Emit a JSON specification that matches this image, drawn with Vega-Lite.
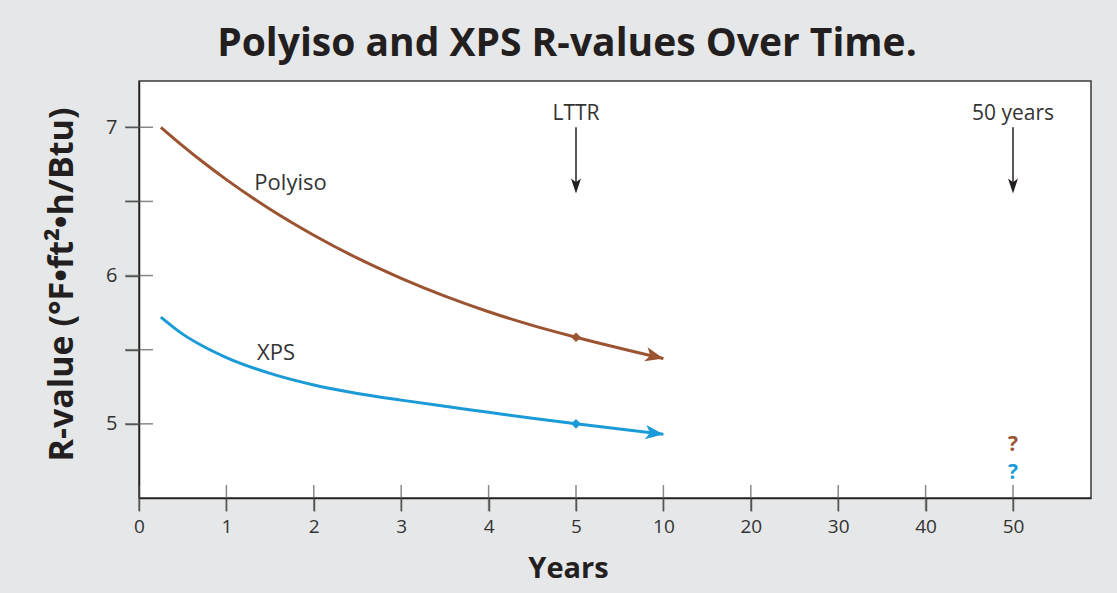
{
  "$schema": "https://vega.github.io/schema/vega-lite/v6.json",
  "width": 952,
  "height": 417,
  "autosize": {"type": "none"},
  "padding": {"left": 139, "top": 81, "right": 26, "bottom": 95},
  "background": "#e6e7e8",
  "config": {
    "view": {"fill": "white", "stroke": "#3a3a3a", "strokeWidth": 1.5},
    "font": "Open Sans",
    "axis": {"grid": false},
    "axisX": {
      "tickSize": 13, "tickColor": "#555555", "tickWidth": 1.5,
      "domainColor": "#222222", "domainWidth": 1.5,
      "labelFont": "Open Sans", "labelFontSize": 19, "labelColor": "#333333", "labelPadding": 6,
      "labelFlush": false, "labelOverlap": false,
      "titleFont": "Open Sans", "titleFontSize": 29, "titleFontWeight": "bold", "titleColor": "#231f20",
      "titleX": 429, "titleY": 79, "titleBaseline": "alphabetic", "titleAlign": "center"
    },
    "axisY": {
      "tickSize": 14, "tickColor": "#555555", "tickWidth": 1.5,
      "domainColor": "#222222", "domainWidth": 1.5,
      "labelFont": "Open Sans", "labelFontSize": 20, "labelColor": "#333333", "labelPadding": 8,
      "titleFont": "Open Sans", "titleFontSize": 34, "titleFontWeight": "bold", "titleColor": "#231f20",
      "titleAngle": 270, "titleX": -67, "titleY": 203, "titleBaseline": "alphabetic", "titleAlign": "center"
    }
  },
  "title": {
    "text": "Polyiso and XPS R-values Over Time.",
    "font": "Open Sans",
    "fontSize": 39,
    "fontWeight": "bold",
    "color": "#231f20",
    "anchor": "middle",
    "frame": "group",
    "dx": -48,
    "dy": 35,
    "baseline": "alphabetic",
    "offset": 21
  },
  "datasets": {
    "curves": [
      {"series": "Polyiso", "year": 0.25, "r": 7.0},
      {"series": "Polyiso", "year": 0.5, "r": 6.875},
      {"series": "Polyiso", "year": 0.75, "r": 6.757},
      {"series": "Polyiso", "year": 1, "r": 6.647},
      {"series": "Polyiso", "year": 1.5, "r": 6.447},
      {"series": "Polyiso", "year": 2, "r": 6.272},
      {"series": "Polyiso", "year": 2.5, "r": 6.117},
      {"series": "Polyiso", "year": 3, "r": 5.981},
      {"series": "Polyiso", "year": 3.5, "r": 5.861},
      {"series": "Polyiso", "year": 4, "r": 5.756},
      {"series": "Polyiso", "year": 4.5, "r": 5.664},
      {"series": "Polyiso", "year": 5, "r": 5.584},
      {"series": "Polyiso", "year": 10, "r": 5.44},
      {"series": "XPS", "year": 0.25, "r": 5.72},
      {"series": "XPS", "year": 0.5, "r": 5.605},
      {"series": "XPS", "year": 0.75, "r": 5.518},
      {"series": "XPS", "year": 1, "r": 5.447},
      {"series": "XPS", "year": 1.5, "r": 5.34},
      {"series": "XPS", "year": 2, "r": 5.262},
      {"series": "XPS", "year": 2.5, "r": 5.205},
      {"series": "XPS", "year": 3, "r": 5.16},
      {"series": "XPS", "year": 3.5, "r": 5.118},
      {"series": "XPS", "year": 4, "r": 5.078},
      {"series": "XPS", "year": 4.5, "r": 5.038},
      {"series": "XPS", "year": 5, "r": 5.0},
      {"series": "XPS", "year": 10, "r": 4.93}
    ],
    "xticks": [
      {"year": 0}, {"year": 1}, {"year": 2}, {"year": 3}, {"year": 4}, {"year": 5},
      {"year": 10}, {"year": 20}, {"year": 30}, {"year": 40}, {"year": 50}
    ],
    "yticks": [{"r": 5}, {"r": 5.5}, {"r": 6}, {"r": 6.5}, {"r": 7}],
    "seriesLabels": [
      {"series": "Polyiso", "label": "Polyiso", "year": 1.32, "r": 6.624},
      {"series": "XPS", "label": "XPS", "year": 1.35, "r": 5.478}
    ],
    "notes": [
      {"label": "LTTR", "year": 5},
      {"label": "50 years", "year": 50}
    ],
    "unknowns": [
      {"series": "Polyiso", "year": 50, "r": 4.855},
      {"series": "XPS", "year": 50, "r": 4.668}
    ]
  },
  "layer": [
    {
      "data": {"name": "curves"},
      "mark": {"type": "line", "strokeWidth": 3, "interpolate": "monotone"},
      "encoding": {
        "x": {
          "field": "year", "type": "quantitative",
          "scale": {"domain": [0, 5, 10, 50, 58.8], "range": [0, 437, 524.4, 874, 952], "nice": false, "zero": false},
          "axis": {"values": [0, 1, 2, 3, 4, 5, 10, 20, 30, 40, 50], "title": "Years"}
        },
        "y": {
          "field": "r", "type": "quantitative",
          "scale": {"domain": [4.5, 7.312], "nice": false, "zero": false},
          "axis": {
            "values": [5, 5.5, 6, 6.5, 7],
            "format": ".0f",
            "labelExpr": "datum.value % 1 === 0 ? datum.label : ''",
            "title": "R-value (°F•ft²•h/Btu)"
          }
        },
        "color": {"field": "series", "type": "nominal", "scale": {"domain": ["Polyiso", "XPS"], "range": ["#9b5331", "#1a9bd7"]}, "legend": null}
      }
    },
    {
      "data": {"name": "xticks"},
      "mark": {"type": "tick", "orient": "vertical", "size": 26, "thickness": 1.5, "color": "#555555"},
      "encoding": {
        "x": {"field": "year", "type": "quantitative", "scale": {"domain": [0, 5, 10, 50, 58.8], "range": [0, 437, 524.4, 874, 952], "nice": false, "zero": false}},
        "y": {"datum": 4.5, "type": "quantitative", "scale": {"domain": [4.5, 7.312], "nice": false, "zero": false}}
      }
    },
    {
      "data": {"name": "yticks"},
      "mark": {"type": "tick", "orient": "horizontal", "size": 28, "thickness": 1.5, "color": "#555555"},
      "encoding": {
        "x": {"datum": 0, "type": "quantitative", "scale": {"domain": [0, 5, 10, 50, 58.8], "range": [0, 437, 524.4, 874, 952], "nice": false, "zero": false}},
        "y": {"field": "r", "type": "quantitative", "scale": {"domain": [4.5, 7.312], "nice": false, "zero": false}}
      }
    },
    {
      "data": {"name": "curves"},
      "transform": [{"filter": "datum.year === 5"}],
      "mark": {"type": "point", "shape": "diamond", "filled": true, "size": 95, "opacity": 1},
      "encoding": {
        "x": {"field": "year", "type": "quantitative", "scale": {"domain": [0, 5, 10, 50, 58.8], "range": [0, 437, 524.4, 874, 952], "nice": false, "zero": false}},
        "y": {"field": "r", "type": "quantitative", "scale": {"domain": [4.5, 7.312], "nice": false, "zero": false}},
        "color": {"field": "series", "type": "nominal", "scale": {"domain": ["Polyiso", "XPS"], "range": ["#9b5331", "#1a9bd7"]}, "legend": null}
      }
    },
    {
      "data": {"name": "curves"},
      "transform": [{"filter": "datum.year === 10 && datum.series === 'Polyiso'"}],
      "mark": {"type": "point", "shape": "M0,0 L-1,-0.4 L-0.75,0 L-1,0.4 Z", "filled": true, "size": 1296, "angle": 13.75, "opacity": 1},
      "encoding": {
        "x": {"field": "year", "type": "quantitative", "scale": {"domain": [0, 5, 10, 50, 58.8], "range": [0, 437, 524.4, 874, 952], "nice": false, "zero": false}},
        "y": {"field": "r", "type": "quantitative", "scale": {"domain": [4.5, 7.312], "nice": false, "zero": false}},
        "color": {"field": "series", "type": "nominal", "scale": {"domain": ["Polyiso", "XPS"], "range": ["#9b5331", "#1a9bd7"]}, "legend": null}
      }
    },
    {
      "data": {"name": "curves"},
      "transform": [{"filter": "datum.year === 10 && datum.series === 'XPS'"}],
      "mark": {"type": "point", "shape": "M0,0 L-1,-0.4 L-0.75,0 L-1,0.4 Z", "filled": true, "size": 1296, "angle": 6.8, "opacity": 1},
      "encoding": {
        "x": {"field": "year", "type": "quantitative", "scale": {"domain": [0, 5, 10, 50, 58.8], "range": [0, 437, 524.4, 874, 952], "nice": false, "zero": false}},
        "y": {"field": "r", "type": "quantitative", "scale": {"domain": [4.5, 7.312], "nice": false, "zero": false}},
        "color": {"field": "series", "type": "nominal", "scale": {"domain": ["Polyiso", "XPS"], "range": ["#9b5331", "#1a9bd7"]}, "legend": null}
      }
    },
    {
      "data": {"name": "seriesLabels"},
      "mark": {"type": "text", "align": "left", "baseline": "middle", "fontSize": 22, "font": "Open Sans", "color": "#333333"},
      "encoding": {
        "x": {"field": "year", "type": "quantitative", "scale": {"domain": [0, 5, 10, 50, 58.8], "range": [0, 437, 524.4, 874, 952], "nice": false, "zero": false}},
        "y": {"field": "r", "type": "quantitative", "scale": {"domain": [4.5, 7.312], "nice": false, "zero": false}},
        "text": {"field": "label"}
      }
    },
    {
      "data": {"name": "notes"},
      "mark": {"type": "rule", "strokeWidth": 1.5, "color": "#231f20"},
      "encoding": {
        "x": {"field": "year", "type": "quantitative", "scale": {"domain": [0, 5, 10, 50, 58.8], "range": [0, 437, 524.4, 874, 952], "nice": false, "zero": false}},
        "y": {"datum": 7.0, "type": "quantitative", "scale": {"domain": [4.5, 7.312], "nice": false, "zero": false}},
        "y2": {"datum": 6.58}
      }
    },
    {
      "data": {"name": "notes"},
      "mark": {"type": "point", "shape": "M0,0 L-0.33,-1 L0,-0.75 L0.33,-1 Z", "filled": true, "size": 900, "color": "#231f20", "opacity": 1},
      "encoding": {
        "x": {"field": "year", "type": "quantitative", "scale": {"domain": [0, 5, 10, 50, 58.8], "range": [0, 437, 524.4, 874, 952], "nice": false, "zero": false}},
        "y": {"datum": 6.554, "type": "quantitative", "scale": {"domain": [4.5, 7.312], "nice": false, "zero": false}}
      }
    },
    {
      "data": {"name": "notes"},
      "mark": {"type": "text", "align": "center", "baseline": "middle", "fontSize": 21, "font": "Open Sans", "color": "#333333"},
      "encoding": {
        "x": {"field": "year", "type": "quantitative", "scale": {"domain": [0, 5, 10, 50, 58.8], "range": [0, 437, 524.4, 874, 952], "nice": false, "zero": false}},
        "y": {"datum": 7.09, "type": "quantitative", "scale": {"domain": [4.5, 7.312], "nice": false, "zero": false}},
        "text": {"field": "label"}
      }
    },
    {
      "data": {"name": "unknowns"},
      "mark": {"type": "text", "align": "center", "baseline": "middle", "fontSize": 21, "fontWeight": "bold", "font": "Open Sans"},
      "encoding": {
        "x": {"field": "year", "type": "quantitative", "scale": {"domain": [0, 5, 10, 50, 58.8], "range": [0, 437, 524.4, 874, 952], "nice": false, "zero": false}},
        "y": {"field": "r", "type": "quantitative", "scale": {"domain": [4.5, 7.312], "nice": false, "zero": false}},
        "color": {"field": "series", "type": "nominal", "scale": {"domain": ["Polyiso", "XPS"], "range": ["#9b5331", "#1a9bd7"]}, "legend": null},
        "text": {"value": "?"}
      }
    }
  ]
}
